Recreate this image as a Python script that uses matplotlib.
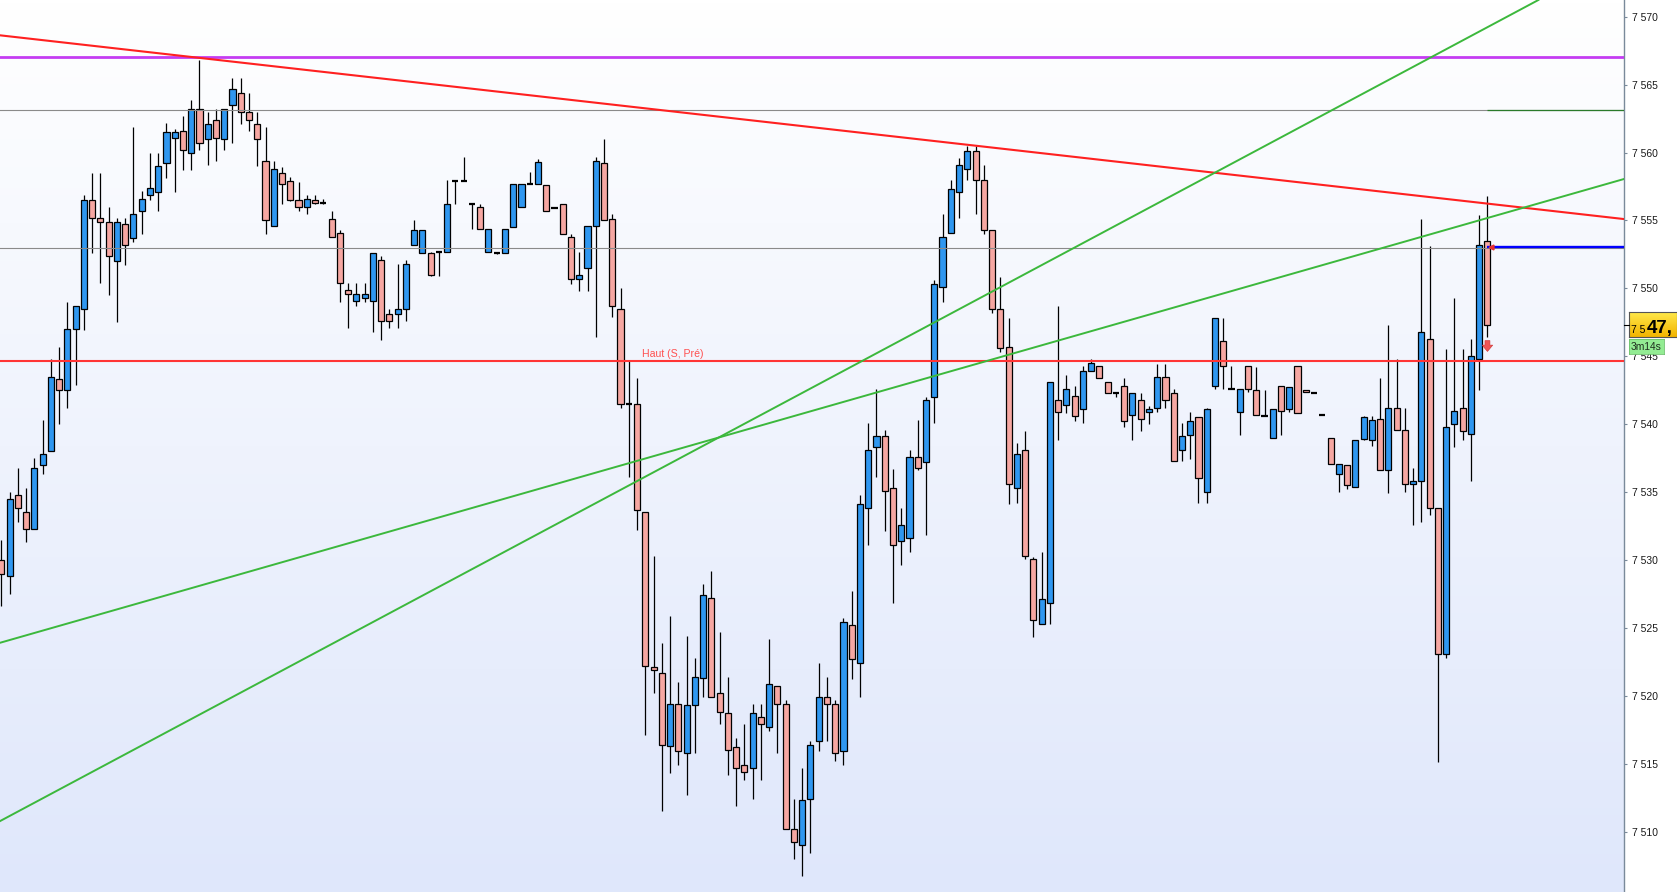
import numpy as np
import matplotlib.pyplot as plt
from matplotlib.colors import LinearSegmentedColormap
from matplotlib.patches import Rectangle
from matplotlib.lines import Line2D
from matplotlib.ticker import FuncFormatter, MultipleLocator

# candles (index 0 = leftmost)
opens = [
    7530.0, 7528.8, 7534.8, 7533.5, 7532.3, 7537.0, 7538.0, 7543.3, 7542.5, 7547.0,
    7548.5, 7556.5, 7555.2, 7554.9, 7552.0, 7554.7, 7553.7, 7555.7, 7556.9, 7557.1,
    7559.2, 7561.1, 7561.6, 7560.0, 7563.2, 7561.0, 7562.4, 7561.0, 7563.5, 7564.4,
    7563.0, 7562.1, 7559.4, 7554.6, 7558.5, 7557.9, 7556.5, 7556.0, 7556.5, 7556.3,
    7555.1, 7554.1, 7549.9, 7549.1, 7549.3, 7549.1, 7552.1, 7548.1, 7548.1, 7548.5,
    7553.2, 7552.6, 7552.6, 7552.7, 7552.7, 7557.9, 7557.9, 7556.2, 7556.0, 7552.7,
    7552.6, 7552.6, 7554.5, 7556.0, 7557.7, 7557.7, 7557.6, 7555.9, 7556.2, 7553.8,
    7550.7, 7551.5, 7554.6, 7559.2, 7555.1, 7548.5, 7541.5, 7541.5, 7533.5, 7522.1,
    7521.7, 7516.3, 7519.4, 7515.8, 7519.3, 7521.3, 7527.2, 7520.2, 7518.7, 7516.2,
    7514.9, 7514.7, 7518.4, 7517.7, 7520.7, 7519.4, 7510.2, 7509.0, 7512.4, 7516.7,
    7519.9, 7519.4, 7515.9, 7525.2, 7522.4, 7533.8, 7538.3, 7539.1, 7535.3, 7531.4,
    7531.6, 7537.6, 7537.2, 7542.0, 7550.1, 7554.1, 7557.1, 7558.8, 7560.1, 7558.0,
    7554.3, 7548.5, 7545.7, 7535.3, 7538.1, 7530.1, 7525.3, 7526.8, 7541.8, 7541.4,
    7542.1, 7541.1, 7543.9, 7544.3, 7543.1, 7542.3, 7542.8, 7540.7, 7541.8, 7540.9,
    7541.2, 7543.5, 7542.3, 7538.1, 7539.2, 7540.5, 7535.0, 7542.8, 7546.1, 7542.6,
    7540.9, 7544.3, 7542.5, 7540.6, 7539.0, 7542.8, 7541.1, 7544.3, 7542.5, 7542.3,
    7540.7, 7539.0, 7536.3, 7537.0, 7535.4, 7538.9, 7538.8, 7540.4, 7536.6, 7541.2,
    7539.6, 7535.6, 7535.8, 7546.3, 7533.8, 7523.1, 7540.0, 7541.2, 7539.3, 7544.8,
    7553.5,
]
highs = [
    7531.5, 7535.0, 7536.8, 7535.3, 7537.5, 7540.3, 7544.8, 7545.7, 7549.0, 7548.7,
    7556.9, 7558.5, 7558.5, 7556.0, 7555.2, 7555.2, 7561.9, 7557.2, 7560.0, 7560.0,
    7562.2, 7561.7, 7562.7, 7563.9, 7566.8, 7563.0, 7563.2, 7563.2, 7565.5, 7565.5,
    7564.4, 7563.0, 7561.9, 7559.4, 7558.9, 7558.2, 7557.8, 7556.9, 7556.9, 7556.6,
    7555.7, 7554.3, 7550.4, 7550.4, 7550.4, 7552.6, 7552.4, 7548.5, 7551.8, 7552.1,
    7555.0, 7554.3, 7552.7, 7552.7, 7558.0, 7557.9, 7559.7, 7556.2, 7556.2, 7554.4,
    7552.7, 7554.4, 7557.7, 7557.7, 7558.6, 7559.5, 7557.6, 7555.9, 7556.2, 7554.0,
    7552.7, 7554.6, 7559.7, 7561.0, 7555.5, 7550.0, 7544.7, 7543.4, 7533.5, 7530.3,
    7523.9, 7525.9, 7521.0, 7524.4, 7522.8, 7528.2, 7529.2, 7524.7, 7521.4, 7516.9,
    7517.9, 7519.4, 7519.4, 7524.2, 7520.7, 7519.7, 7512.4, 7514.7, 7516.7, 7522.4,
    7521.4, 7519.7, 7525.7, 7527.7, 7534.8, 7540.1, 7542.6, 7539.6, 7536.7, 7533.8,
    7538.1, 7540.3, 7542.0, 7550.6, 7555.5, 7558.0, 7559.6, 7560.5, 7560.5, 7559.1,
    7554.3, 7550.8, 7547.8, 7538.6, 7539.5, 7530.2, 7530.6, 7543.1, 7548.7, 7543.6,
    7542.8, 7544.3, 7544.8, 7544.3, 7543.1, 7542.4, 7543.4, 7542.3, 7542.3, 7541.3,
    7544.4, 7544.4, 7542.6, 7540.1, 7540.9, 7540.5, 7541.2, 7547.8, 7547.8, 7544.3,
    7542.6, 7544.3, 7544.2, 7542.5, 7541.1, 7542.8, 7542.7, 7544.3, 7542.5, 7542.3,
    7540.7, 7539.0, 7537.1, 7537.0, 7538.8, 7540.6, 7540.6, 7543.4, 7547.3, 7544.8,
    7541.2, 7536.8, 7555.1, 7553.1, 7533.8, 7545.5, 7549.3, 7545.5, 7546.3, 7555.4,
    7556.8,
]
lows = [
    7526.6, 7527.5, 7532.8, 7531.3, 7532.3, 7536.3, 7538.0, 7540.0, 7541.2, 7542.9,
    7546.9, 7552.6, 7550.4, 7549.5, 7547.5, 7551.7, 7553.4, 7554.0, 7556.5, 7555.7,
    7558.1, 7557.1, 7558.7, 7558.7, 7560.2, 7559.1, 7559.4, 7560.2, 7560.7, 7562.1,
    7561.6, 7559.0, 7554.0, 7554.6, 7556.2, 7556.4, 7555.7, 7555.5, 7556.2, 7556.2,
    7553.8, 7549.0, 7547.1, 7548.7, 7549.0, 7546.8, 7546.2, 7547.1, 7547.1, 7547.6,
    7553.2, 7552.6, 7550.9, 7550.9, 7552.7, 7556.2, 7557.9, 7554.4, 7554.4, 7552.7,
    7552.5, 7552.6, 7554.5, 7556.0, 7557.7, 7557.7, 7555.7, 7555.9, 7554.0, 7550.3,
    7549.8, 7549.8, 7546.4, 7555.0, 7547.9, 7541.2, 7536.1, 7532.2, 7517.1, 7520.2,
    7511.5, 7514.3, 7514.9, 7512.7, 7515.8, 7519.9, 7519.9, 7517.9, 7514.2, 7511.9,
    7513.8, 7512.4, 7513.8, 7517.4, 7515.8, 7510.2, 7508.0, 7506.7, 7508.4, 7515.9,
    7516.7, 7515.2, 7514.9, 7521.2, 7519.9, 7531.1, 7536.1, 7532.1, 7526.8, 7529.6,
    7530.6, 7536.6, 7531.8, 7540.1, 7549.0, 7554.1, 7555.2, 7558.0, 7555.5, 7554.0,
    7548.2, 7545.3, 7534.1, 7534.2, 7530.1, 7524.3, 7525.3, 7525.3, 7538.8, 7540.8,
    7540.2, 7540.1, 7543.9, 7543.4, 7542.3, 7542.0, 7539.8, 7538.8, 7539.5, 7540.0,
    7540.9, 7541.2, 7537.3, 7537.3, 7537.4, 7534.2, 7534.2, 7542.6, 7542.6, 7542.6,
    7539.2, 7542.4, 7540.7, 7540.6, 7539.0, 7539.2, 7540.9, 7540.8, 7542.4, 7542.3,
    7540.7, 7537.1, 7535.0, 7535.2, 7535.4, 7538.8, 7538.4, 7536.6, 7534.9, 7539.6,
    7535.0, 7532.6, 7532.8, 7533.3, 7515.1, 7522.8, 7538.3, 7538.8, 7535.8, 7542.5,
    7546.4,
]
closes = [
    7529.0, 7534.5, 7533.8, 7532.3, 7536.8, 7537.8, 7543.5, 7542.5, 7547.0, 7548.7,
    7556.5, 7555.2, 7554.9, 7552.4, 7554.9, 7553.2, 7555.5, 7556.6, 7557.4, 7559.0,
    7561.5, 7561.5, 7560.2, 7563.2, 7560.7, 7562.1, 7561.1, 7563.2, 7564.7, 7563.0,
    7562.4, 7561.0, 7555.0, 7558.8, 7557.7, 7556.5, 7556.0, 7556.6, 7556.3, 7556.3,
    7553.8, 7550.4, 7549.6, 7549.6, 7549.6, 7552.6, 7547.6, 7547.6, 7548.5, 7551.8,
    7554.3, 7554.3, 7551.0, 7552.7, 7556.2, 7557.9, 7557.9, 7556.2, 7554.4, 7554.4,
    7552.6, 7554.4, 7557.7, 7557.7, 7557.7, 7559.3, 7555.7, 7555.9, 7554.0, 7550.7,
    7551.0, 7554.6, 7559.4, 7555.0, 7548.7, 7541.5, 7541.5, 7533.7, 7522.2, 7521.9,
    7516.4, 7519.4, 7515.9, 7519.3, 7521.4, 7527.4, 7519.9, 7518.8, 7516.0, 7514.7,
    7514.4, 7518.7, 7517.9, 7520.9, 7519.4, 7510.2, 7509.2, 7512.3, 7516.4, 7519.9,
    7519.4, 7515.8, 7525.4, 7522.7, 7534.1, 7538.1, 7539.1, 7535.1, 7531.1, 7532.6,
    7537.6, 7536.8, 7541.8, 7550.3, 7553.8, 7557.3, 7559.1, 7560.1, 7558.0, 7554.3,
    7548.5, 7545.6, 7535.6, 7537.8, 7530.3, 7525.6, 7527.1, 7543.1, 7540.9, 7542.6,
    7540.6, 7543.9, 7544.5, 7543.4, 7542.3, 7542.3, 7540.2, 7542.3, 7540.4, 7541.1,
    7543.5, 7541.8, 7537.3, 7539.1, 7540.2, 7536.0, 7541.1, 7547.8, 7544.3, 7542.6,
    7542.6, 7542.6, 7540.7, 7540.6, 7541.1, 7541.0, 7542.7, 7540.8, 7542.4, 7542.3,
    7540.7, 7537.1, 7537.1, 7535.5, 7538.8, 7540.5, 7540.3, 7536.6, 7541.2, 7539.6,
    7535.6, 7535.8, 7546.8, 7533.8, 7523.1, 7539.8, 7541.0, 7539.5, 7545.0, 7553.2,
    7547.3,
]

# drawn lines: (candle index, price) anchors
red_trend = ([-0.16, 196.54], [7568.63, 7555.10])
green_steep = ([-0.16, 186.17], [7510.77, 7571.23])
green_flat = ([-0.16, 196.54], [7523.90, 7558.05])
level_magenta = 7567.0
level_grey_hi = 7563.1
level_grey_lo = 7553.0
level_blue = 7553.07
level_haut = 7544.63
haut_label = "Haut (S, Pré)"
last_price = "7 547,"
timer = "3m14s"

W, H = 1677, 892
X0, X1 = -0.16, 196.54
Y0, Y1 = 7505.55, 7571.23

plt.rcParams['font.family'] = ['Liberation Sans', 'DejaVu Sans']
fig = plt.figure(figsize=(W / 100, H / 100), dpi=100)
fig.patch.set_facecolor('white')
ax = fig.add_axes([0, 0, 1624 / W, 1])
ax.set_xlim(X0, X1)
ax.set_ylim(Y0, Y1)

bg = LinearSegmentedColormap.from_list('bg', ['#ffffff', '#dfe7fb'])
ax.imshow(np.linspace(0, 1, 256).reshape(-1, 1), cmap=bg, aspect='auto',
          extent=[X0, X1, Y0, Y1], origin='upper', zorder=0)

bw = 0.74
for i, (o, h, l, c) in enumerate(zip(opens, highs, lows, closes)):
    ax.vlines(i, l, h, color='black', lw=0.9, zorder=2)
    if abs(c - o) < 0.05:
        ax.hlines(o, i - bw / 2, i + bw / 2, color='black', lw=1.6, zorder=3)
        continue
    fc = '#2f97f0' if c > o else '#f6a7a2'
    ax.add_patch(Rectangle((i - bw / 2, min(o, c)), bw, abs(c - o), facecolor=fc,
                           edgecolor='black', lw=0.9, zorder=3))

last = len(closes) - 1
ax.axhline(level_magenta, color='#c43cf2', lw=2.0, zorder=4)
ax.axhline(level_grey_hi, color='#8a8a8a', lw=0.8, zorder=4)
ax.hlines(level_grey_hi, last, X1, color='#2a7a2a', lw=0.9, zorder=5)
ax.axhline(level_grey_lo, color='#8a8a8a', lw=0.8, zorder=4)
ax.hlines(level_blue, last, X1, color='#0000ff', lw=1.7, zorder=5)
ax.axhline(level_haut, color='#ff3535', lw=1.5, zorder=4)
ax.text(77.6, level_haut + 0.2, haut_label, color='#ff5050', fontsize=7.6,
        va='bottom', ha='left', zorder=5)

ax.plot(*red_trend, color='#ff2020', lw=1.5, zorder=4)
ax.plot(*green_steep, color='#3cb83c', lw=1.4, zorder=4)
ax.plot(*green_flat, color='#3cb83c', lw=1.4, zorder=4)

ax.plot([last + 0.45], [level_blue], marker='<', ms=3.5, color='#e83030', zorder=6)
ax.annotate('', xy=(last, 7545.15), xytext=(last, 7546.35),
            arrowprops=dict(arrowstyle='simple,head_length=0.45,head_width=0.75,tail_width=0.35',
                            fc='#ef5555', ec='#d03a3a', lw=0.5), zorder=6)

# right price scale
for s in ['top', 'left', 'bottom']:
    ax.spines[s].set_visible(False)
ax.spines['right'].set_color('#7a8a9a')
ax.spines['right'].set_linewidth(1.0)
ax.set_xticks([])
ax.yaxis.tick_right()
ax.yaxis.set_major_locator(MultipleLocator(5))
ax.yaxis.set_major_formatter(FuncFormatter(lambda v, p: f"{int(round(v)) // 1000} {int(round(v)) % 1000:03d}"))
ax.tick_params(axis='y', direction='out', length=2.5, width=0.8, color='#7a8a9a',
               labelsize=7.5, pad=3.2, labelcolor='#1a1a1a')

# last price box
bx = fig.add_axes([1629 / W, (H - 337) / H, 48 / W, 25 / H])
gold = LinearSegmentedColormap.from_list('gold', ['#ffe84a', '#f2b400'])
bx.imshow(np.linspace(0, 1, 64).reshape(-1, 1), cmap=gold, aspect='auto',
          extent=[0, 1, 0, 1], origin='upper')
bx.set_xlim(0, 1)
bx.set_ylim(0, 1)
bx.set_xticks([])
bx.set_yticks([])
for s in bx.spines.values():
    s.set_color('#555555')
    s.set_linewidth(0.8)
bx.text(0.04, 0.15, last_price[:3], fontsize=7.4, color='black', va='baseline')
bx.text(0.37, 0.15, last_price[3:], fontsize=13.5, fontweight='bold', color='black', va='baseline')
fig.add_artist(Line2D([1624 / W, 1629 / W], [(H - 325) / H] * 2, color='black', lw=0.8))

tx = fig.add_axes([1629 / W, (H - 353.5) / H, 35 / W, 15 / H])
tx.set_facecolor('#93ec93')
tx.set_xticks([])
tx.set_yticks([])
for s in tx.spines.values():
    s.set_color('#6cc06c')
    s.set_linewidth(0.6)
tx.text(0.5, 0.45, timer, fontsize=7.4, color='#1e2e1e', ha='center', va='center',
        transform=tx.transAxes)

fig.savefig('out.png', dpi=100)
